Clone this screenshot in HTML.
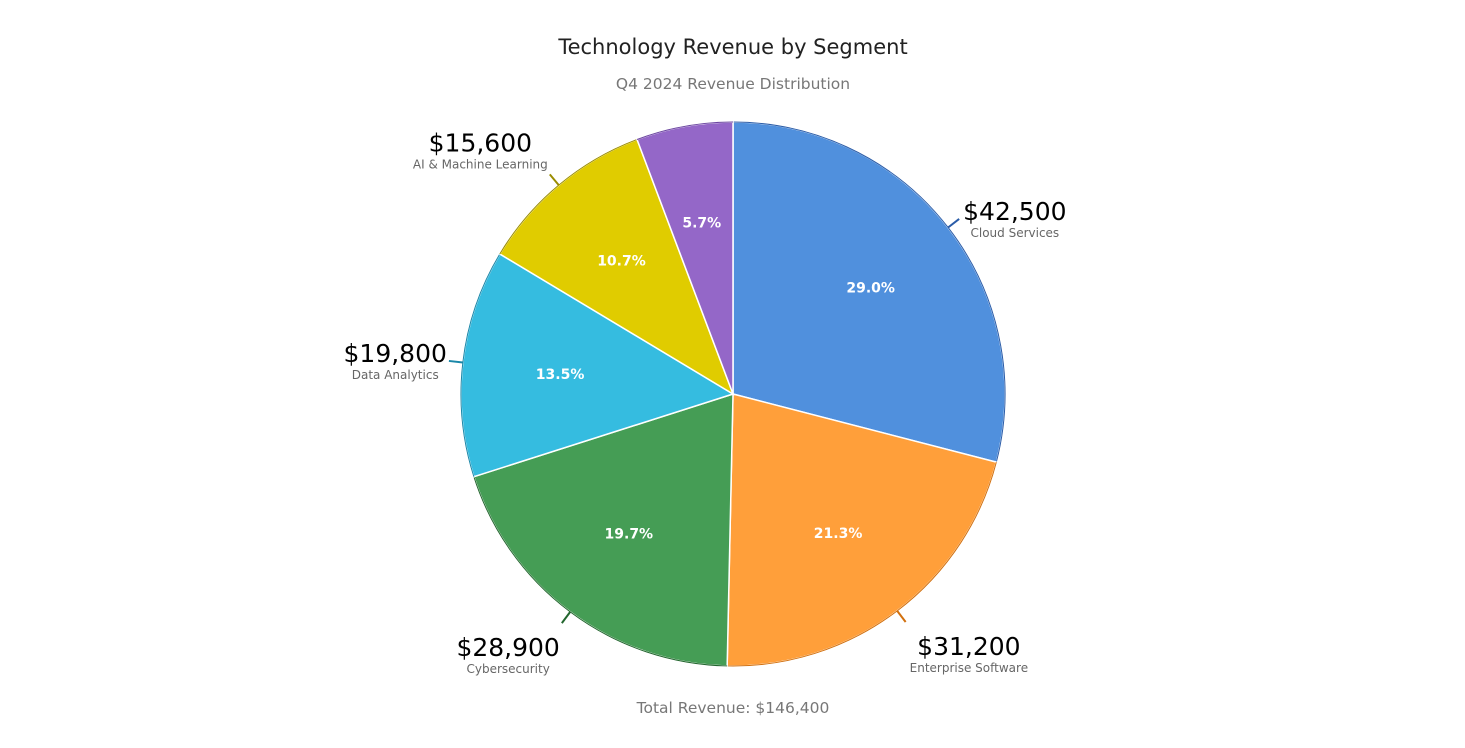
<!DOCTYPE html>
<html><head><meta charset="utf-8"><style>
body{margin:0;background:#fff;}
svg{display:block;font-family:"DejaVu Sans","Liberation Sans",sans-serif;}
</style></head><body>
<svg id="chart" width="1465" height="748">
<text x="733" y="54" text-anchor="middle" font-size="21" fill="#222">Technology Revenue by Segment</text>
<text x="733" y="89" text-anchor="middle" font-size="15.5" fill="#777">Q4 2024 Revenue Distribution</text>
<text x="733" y="713" text-anchor="middle" font-size="15.5" fill="#777">Total Revenue: $146,400</text>
<g id="slices"></g><g id="labels"></g>
</svg>
<script>
const categories = ["Cloud Services","Enterprise Software","Cybersecurity","Data Analytics","AI & Machine Learning","Other"];
const values = [42500,31200,28900,19800,15600,8400];
const showOutside = [true,true,true,true,true,false];
const colors = ["#5090dd","#ff9f3a","#459d55","#35bce0","#e0cc00","#9467c8"];
const borders = ["#2a5ca8","#d2700e","#22662e","#1a87a8","#9a8c00","#6b45a0"];
const cx=733, cy=394, R=272;
const NS="http://www.w3.org/2000/svg";
const total=values.reduce((a,b)=>a+b,0);
const sg=document.getElementById('slices'), lg=document.getElementById('labels');
function pt(a,r){return [cx+r*Math.sin(a), cy-r*Math.cos(a)];}
let cum=0;
values.forEach((v,i)=>{
  const a0=cum/total*2*Math.PI; cum+=v; const a1=cum/total*2*Math.PI;
  const p0=pt(a0,R), p1=pt(a1,R);
  const path=document.createElementNS(NS,'path');
  path.setAttribute('d',`M${cx},${cy}L${p0[0]},${p0[1]}A${R},${R} 0 ${a1-a0>Math.PI?1:0} 1 ${p1[0]},${p1[1]}Z`);
  path.setAttribute('fill',colors[i]); path.setAttribute('stroke','#fff'); path.setAttribute('stroke-width','1.5');
  
  
  sg.appendChild(path);
  const arc=document.createElementNS(NS,'path');
  arc.setAttribute('d',`M${p0[0]},${p0[1]}A${R},${R} 0 ${a1-a0>Math.PI?1:0} 1 ${p1[0]},${p1[1]}`);
  arc.setAttribute('fill','none'); arc.setAttribute('stroke',borders[i]); arc.setAttribute('stroke-width','1');
  
  
  sg.appendChild(arc);
  const am=(a0+a1)/2;
  const pp=pt(am,R*0.64);
  const t=document.createElementNS(NS,'text');
  t.setAttribute('x',pp[0]); t.setAttribute('y',pp[1]+5); t.setAttribute('text-anchor','middle');
  t.setAttribute('font-size','14'); t.setAttribute('fill','#fff'); t.setAttribute('font-weight','bold');
  t.textContent=(v/total*100).toFixed(1)+'%';
  
  
  lg.appendChild(t);
  if(!showOutside[i]) return;
  const s=pt(am,R), e=pt(am,R+14);
  const ln=document.createElementNS(NS,'line');
  ln.setAttribute('x1',s[0]);ln.setAttribute('y1',s[1]);ln.setAttribute('x2',e[0]);ln.setAttribute('y2',e[1]);
  ln.setAttribute('stroke',borders[i]);ln.setAttribute('stroke-width','2');
  
  
  lg.appendChild(ln);
  const c=Math.cos(am), right=Math.sin(am)>0;
  const bc=e[1]+(c>0.7?-21:c<-0.7?35:3);
  const vt=document.createElementNS(NS,'text');
  vt.setAttribute('y',bc-2); vt.setAttribute('font-size','25'); vt.setAttribute('fill','#000'); vt.setAttribute('text-anchor','middle');
  vt.textContent='$'+v.toLocaleString('en-US');
  
  
  const ct=document.createElementNS(NS,'text');
  ct.setAttribute('y',bc+15); ct.setAttribute('font-size','12'); ct.setAttribute('fill','#666'); ct.setAttribute('text-anchor','middle');
  ct.textContent=categories[i];
  
  
  lg.appendChild(vt); lg.appendChild(ct);
  const w=Math.max(vt.getComputedTextLength(),ct.getComputedTextLength());
  const x=right?e[0]+4+w/2:e[0]-2-w/2;
  vt.setAttribute('x',x); ct.setAttribute('x',x);
});
</script>
</body></html>
